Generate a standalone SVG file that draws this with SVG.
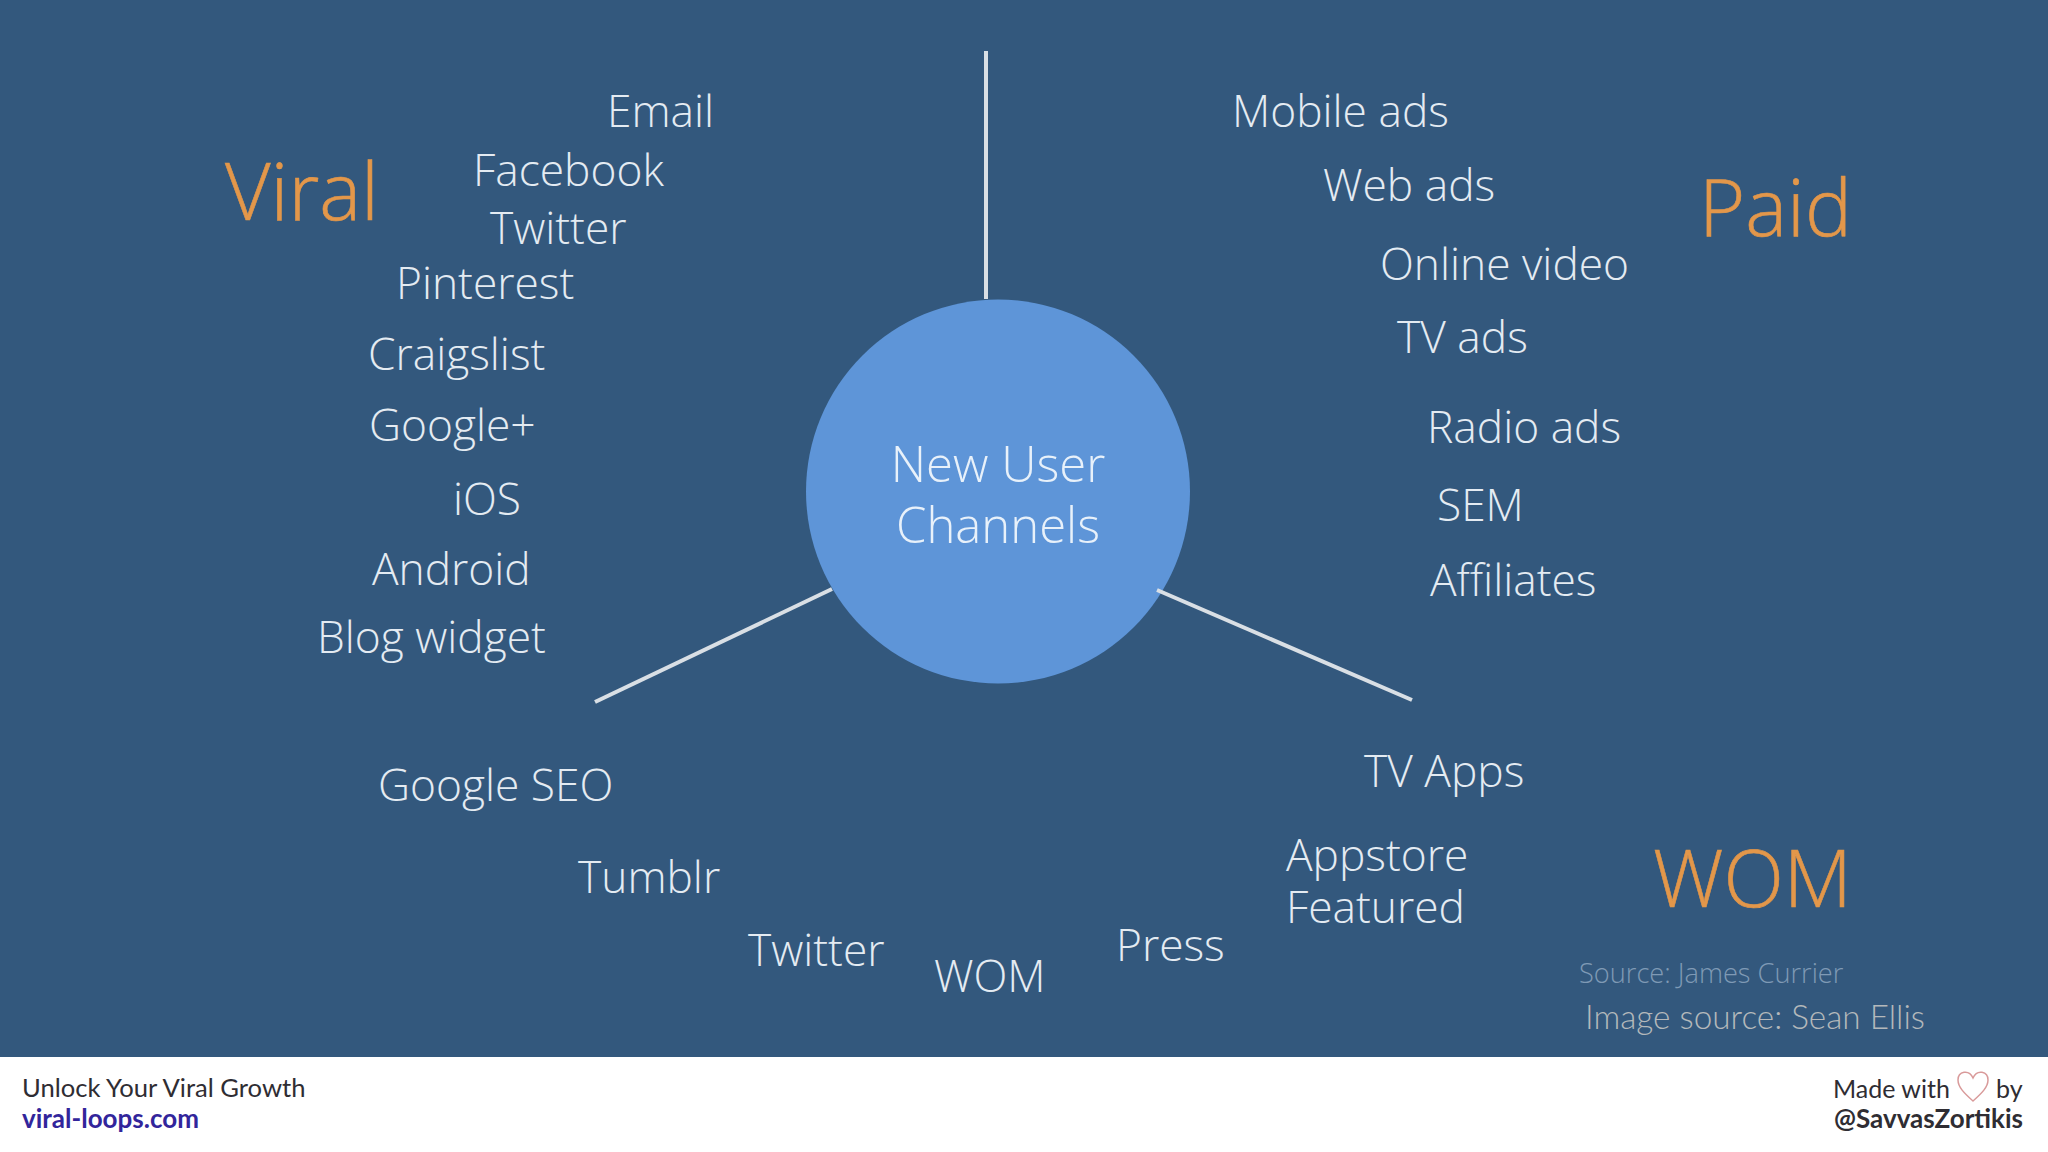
<svg xmlns="http://www.w3.org/2000/svg" width="2048" height="1152" viewBox="0 0 2048 1152">
<style>
.i{font-family:"Open Sans","Noto Sans",sans-serif;font-weight:300;font-size:44.3px;fill:#e4ebf2}
.h{font-family:"Open Sans","Noto Sans",sans-serif;font-weight:300;font-size:79px;fill:#e3974a;stroke:#e3974a;stroke-width:.6}
.c{font-family:"Open Sans","Noto Sans",sans-serif;font-weight:300;font-size:49px;fill:#e8f1fa;text-anchor:middle}
.f{font-family:Lato,"Noto Sans",sans-serif;font-size:25.6px;fill:#2f2d33}
.b{font-weight:700;font-size:26px}
.l{stroke:#d9dfe5;stroke-width:4;fill:none}
</style>
<rect id="background" width="2048" height="1057" fill="#33587d"/>
<rect id="footer" y="1057" width="2048" height="95" fill="#fff"/>
<g id="center"><circle cx="998" cy="491.5" r="192" fill="#5e95d8"/>
<text class="c" x="998" y="482">New User</text><text class="c" x="998" y="543">Channels</text></g>
<g id="connectors">
<line class="l" x1="986" y1="51" x2="986" y2="299"/>
<line class="l" x1="595" y1="702" x2="832" y2="589"/>
<line class="l" x1="1157" y1="590" x2="1412" y2="700"/>
</g>
<g id="viral">
<text class="h" x="225" y="220">Viral</text>
<text class="i" x="607" y="127">Email</text>
<text class="i" x="473" y="186">Facebook</text>
<text class="i" x="490" y="244">Twitter</text>
<text class="i" x="396" y="299">Pinterest</text>
<text class="i" x="368" y="370">Craigslist</text>
<text class="i" x="369" y="441">Google+</text>
<text class="i" x="453" y="515">iOS</text>
<text class="i" x="372" y="585">Android</text>
<text class="i" x="317" y="653">Blog widget</text>
</g>
<g id="paid">
<text class="h" x="1699" y="236">Paid</text>
<text class="i" x="1232" y="127">Mobile ads</text>
<text class="i" x="1323" y="201">Web ads</text>
<text class="i" x="1380" y="280">Online video</text>
<text class="i" x="1397" y="353">TV ads</text>
<text class="i" x="1427" y="443">Radio ads</text>
<text class="i" x="1437" y="521">SEM</text>
<text class="i" x="1430" y="596">Affiliates</text>
</g>
<g id="wom">
<text class="h" x="1653" y="907">WOM</text>
<text class="i" x="378" y="801">Google SEO</text>
<text class="i" x="578" y="893">Tumblr</text>
<text class="i" x="748" y="966">Twitter</text>
<text class="i" x="934" y="992">WOM</text>
<text class="i" x="1116" y="961">Press</text>
<text class="i" x="1286" y="871">Appstore</text>
<text class="i" x="1286" y="923">Featured</text>
<text class="i" x="1364" y="787">TV Apps</text>
</g>
<g id="sources">
<text x="1579" y="983" font-family="Open Sans" font-weight="300" font-size="27.2" fill="#7f9ab5">Source: James Currier</text>
<text x="1585" y="1029" font-family="Lato" font-weight="300" font-size="33.3" fill="#b4b8bb">Image source: Sean Ellis</text>
</g>
<g id="footer-left">
<text class="f" x="22" y="1097">Unlock Your Viral Growth</text>
<text class="f b" x="22" y="1128" style="fill:#32259b">viral-loops.com</text>
</g>
<g id="footer-right">
<text class="f" x="1833" y="1098" style="font-size:25px">Made with</text>
<text class="f" x="1996" y="1098" style="font-size:25px">by</text>
<path d="M1973 1101C1964 1093 1958 1087 1958 1080C1958 1071 1969 1069 1973 1078C1977 1069 1988 1071 1988 1080C1988 1087 1982 1093 1973 1101Z" fill="none" stroke="#d99a9a" stroke-width="1.5"/>
<text class="f b" x="2023" y="1128" text-anchor="end">@SavvasZortikis</text>
</g>
</svg>
